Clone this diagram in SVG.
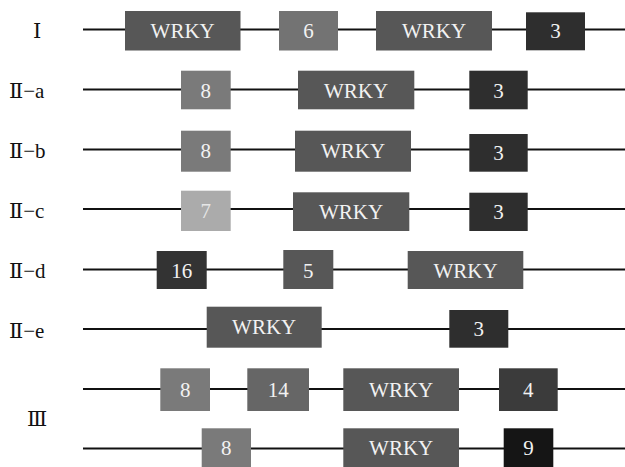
<svg xmlns="http://www.w3.org/2000/svg" width="625" height="467" viewBox="0 0 625 467">
<style>
.ln{stroke:#111;stroke-width:2;fill:none}
.w{fill:#575757}
</style>
<rect width="625" height="467" fill="#fff"/>
<g id="connectors">
<line class="ln" x1="83" y1="29.5" x2="625" y2="29.5"/>
<line class="ln" x1="83" y1="89.5" x2="625" y2="89.5"/>
<line class="ln" x1="83" y1="149.5" x2="625" y2="149.5"/>
<line class="ln" x1="83" y1="209" x2="625" y2="209"/>
<line class="ln" x1="83" y1="269.5" x2="625" y2="269.5"/>
<line class="ln" x1="83" y1="329" x2="625" y2="329"/>
<line class="ln" x1="83" y1="389" x2="625" y2="389"/>
<line class="ln" x1="83" y1="448.5" x2="625" y2="448.5"/>
</g>
<g id="labels" font-family="'Liberation Serif','DejaVu Serif',serif" font-size="21" fill="#111">
<text x="33" y="38">Ⅰ</text>
<text x="9" y="98">Ⅱ−a</text>
<text x="9" y="158">Ⅱ−b</text>
<text x="9" y="218">Ⅱ−c</text>
<text x="9" y="278">Ⅱ−d</text>
<text x="9" y="338">Ⅱ−e</text>
<text x="27" y="426">Ⅲ</text>
</g>
<g id="boxes" font-family="'Liberation Serif','Times New Roman',serif" font-size="21" fill="#f2f2f2" text-anchor="middle">
<g id="row-I">
<g id="I-wrky1"><rect class="w" x="125" y="11" width="115.5" height="39.5"/><text x="182.7" y="38">WRKY</text></g>
<g id="I-6"><rect x="279" y="11" width="59" height="39.5" fill="#737373"/><text x="308.5" y="38">6</text></g>
<g id="I-wrky2"><rect class="w" x="376" y="11" width="116" height="39.5"/><text x="434" y="38">WRKY</text></g>
<g id="I-3"><rect x="526" y="12.3" width="59" height="38" fill="#2e2e2e"/><text x="555.5" y="38">3</text></g>
</g>
<g id="row-IIa">
<g id="IIa-8"><rect x="181" y="70.7" width="49.7" height="38.6" fill="#7a7a7a"/><text x="205.8" y="97.5">8</text></g>
<g id="IIa-wrky"><rect class="w" x="298" y="70.7" width="116.3" height="38.6"/><text x="356" y="97.5">WRKY</text></g>
<g id="IIa-3"><rect x="469.3" y="70.7" width="58.4" height="38.6" fill="#2e2e2e"/><text x="498.5" y="97.5">3</text></g>
</g>
<g id="row-IIb">
<g id="IIb-8"><rect x="181" y="130.7" width="49.7" height="41" fill="#7a7a7a"/><text x="205.8" y="158">8</text></g>
<g id="IIb-wrky"><rect class="w" x="295" y="130.7" width="116" height="41"/><text x="353" y="158">WRKY</text></g>
<g id="IIb-3"><rect x="469.3" y="134" width="58.4" height="37.7" fill="#2e2e2e"/><text x="498.5" y="160">3</text></g>
</g>
<g id="row-IIc">
<g id="IIc-7"><rect x="181" y="190.7" width="49.7" height="40.3" fill="#ababab"/><text x="205.8" y="218" fill="#e6e6e6">7</text></g>
<g id="IIc-wrky"><rect class="w" x="293" y="192.3" width="116.3" height="38.7"/><text x="351" y="219">WRKY</text></g>
<g id="IIc-3"><rect x="469.3" y="192.7" width="58.4" height="38.3" fill="#2e2e2e"/><text x="498.5" y="219">3</text></g>
</g>
<g id="row-IId">
<g id="IId-16"><rect x="156.7" y="251" width="50" height="38" fill="#333"/><text x="181.7" y="277.5">16</text></g>
<g id="IId-5"><rect x="283.3" y="250" width="50" height="39" fill="#575757"/><text x="308.3" y="277.5">5</text></g>
<g id="IId-wrky"><rect class="w" x="407.7" y="251" width="115.6" height="38"/><text x="465.5" y="277.5">WRKY</text></g>
</g>
<g id="row-IIe">
<g id="IIe-wrky"><rect class="w" x="206.7" y="306.7" width="115" height="41"/><text x="264.2" y="334">WRKY</text></g>
<g id="IIe-3"><rect x="449.3" y="310" width="59" height="37.7" fill="#2e2e2e"/><text x="478.8" y="336">3</text></g>
</g>
<g id="row-III-1">
<g id="III1-8"><rect x="160.3" y="368.3" width="49.7" height="42.7" fill="#7a7a7a"/><text x="185.2" y="397">8</text></g>
<g id="III1-14"><rect x="247.3" y="368.3" width="61.7" height="42.7" fill="#666"/><text x="278.2" y="397">14</text></g>
<g id="III1-wrky"><rect class="w" x="343.3" y="368.3" width="115.7" height="42.7"/><text x="401.2" y="397">WRKY</text></g>
<g id="III1-4"><rect x="499" y="368.3" width="58.7" height="42.7" fill="#3b3b3b"/><text x="528.3" y="397">4</text></g>
</g>
<g id="row-III-2">
<g id="III2-8"><rect x="201.7" y="428.3" width="49.3" height="38.7" fill="#7a7a7a"/><text x="226.3" y="455">8</text></g>
<g id="III2-wrky"><rect class="w" x="343.3" y="428.3" width="115.7" height="38.7"/><text x="401.2" y="455">WRKY</text></g>
<g id="III2-9"><rect x="503.7" y="428.3" width="49.6" height="38.7" fill="#151515"/><text x="528.5" y="455">9</text></g>
</g>
</g>
</svg>
